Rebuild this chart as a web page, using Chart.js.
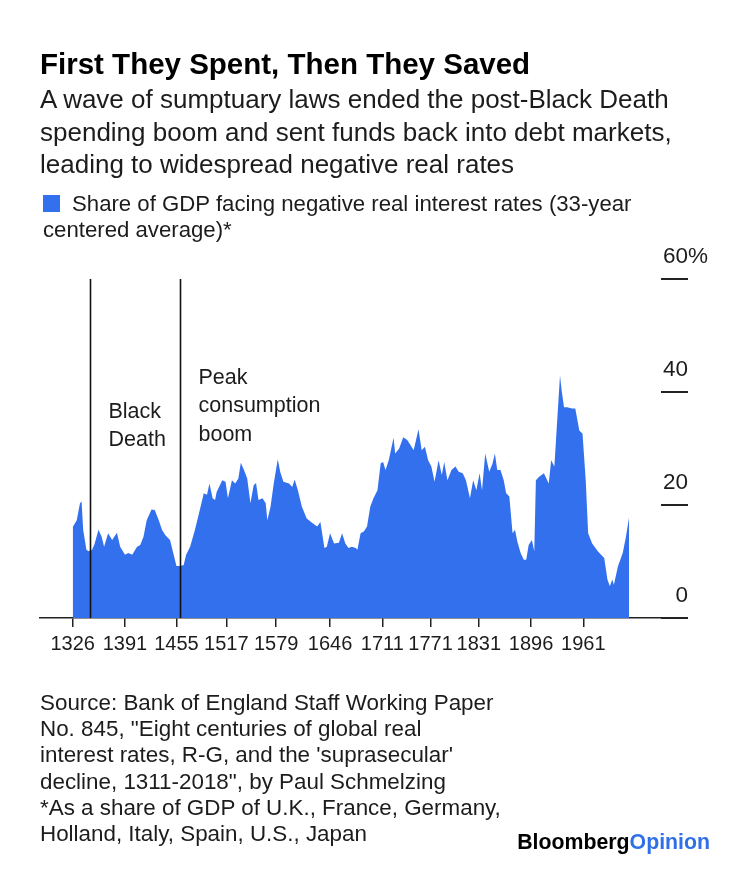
<!DOCTYPE html>
<html><head><meta charset="utf-8">
<script src="https://cdn.jsdelivr.net/npm/chart.js@4.4.1/dist/chart.umd.min.js"></script>
<style>
html,body{margin:0;padding:0;background:#fff;}
body{width:750px;height:887px;position:relative;overflow:hidden;font-family:"Liberation Sans",Arial,sans-serif;color:#1c1c1c;}
#c{position:absolute;left:0;top:0;}
.t{position:absolute;left:40px;white-space:nowrap;}
#title{top:47px;font-size:29.5px;line-height:34px;font-weight:bold;color:#000;}
#sub{top:83px;font-size:26px;line-height:32.5px;}
#legend{top:191px;left:43px;font-size:22.2px;line-height:25.5px;}
#legend .sw{display:inline-block;width:17px;height:17px;background:#3370ee;margin-right:12px;vertical-align:-1px;}
#source{top:690px;font-size:22.4px;line-height:26.2px;}
#brand{position:absolute;right:40px;top:829px;font-size:21.3px;line-height:26px;font-weight:bold;color:#000;white-space:nowrap;}
#brand span{color:#2f6fe8;}
</style></head>
<body>
<canvas id="c" width="750" height="887"></canvas>
<div class="t" id="title">First They Spent, Then They Saved</div>
<div class="t" id="sub">A wave of sumptuary laws ended the post-Black Death<br>spending boom and sent funds back into debt markets,<br>leading to widespread negative real rates</div>
<div class="t" id="legend"><span class="sw"></span>Share of GDP facing negative real interest rates (33-year<br>centered average)*</div>
<div class="t" id="source">Source: Bank of England Staff Working Paper<br>No. 845, "Eight centuries of global real<br>interest rates, R-G, and the 'suprasecular'<br>decline, 1311-2018", by Paul Schmelzing<br>*As a share of GDP of U.K., France, Germany,<br>Holland, Italy, Spain, U.S., Japan</div>
<div id="brand">Bloomberg<span>Opinion</span></div>
<script>
// ---- data ----
const years = [1326,1331,1335,1337,1339,1343,1346,1350,1353,1358,1362,1365,1370,1375,1381,1385,1391,1395,1400,1406,1410,1414,1418,1424,1428,1433,1437,1441,1447,1451,1455,1460,1464,1467,1472,1478,1485,1489,1493,1496,1500,1503,1505,1512,1516,1519,1524,1528,1532,1535,1539,1543,1547,1551,1554,1557,1562,1566,1568,1572,1576,1581,1584,1588,1595,1599,1602,1606,1611,1617,1624,1630,1634,1639,1642,1646,1651,1657,1661,1665,1669,1673,1678,1680,1684,1688,1692,1696,1700,1705,1709,1712,1715,1719,1725,1727,1732,1737,1742,1746,1750,1756,1760,1764,1768,1772,1776,1781,1785,1788,1792,1797,1802,1806,1811,1815,1820,1824,1828,1832,1835,1839,1844,1848,1851,1854,1858,1862,1865,1869,1873,1876,1879,1883,1887,1890,1893,1897,1900,1902,1906,1912,1918,1921,1925,1928,1932,1934,1937,1941,1947,1951,1956,1960,1964,1967,1972,1979,1987,1991,1994,1997,1999,2004,2010,2014,2018];
const negativeShare = [16.1,17.3,20.3,20.6,15.6,12.1,11.8,12.1,13.0,15.6,14.4,12.6,15.0,13.8,15.1,12.6,11.2,11.5,11.2,12.6,12.9,14.4,17.3,19.2,19.1,17.3,15.6,14.7,13.8,11.5,9.2,9.2,9.4,11.2,12.6,15.6,19.7,22.1,21.8,23.8,21.2,20.9,22.3,24.4,24.1,21.2,24.4,23.8,24.7,27.5,26.2,24.7,20.3,23.5,23.9,20.9,21.2,20.3,17.3,19.7,23.8,28.1,25.9,24.1,23.8,23.2,24.5,22.6,19.7,17.6,16.8,16.2,17.0,12.4,12.6,15.0,13.2,13.3,15.0,13.2,12.4,12.6,12.4,12.1,15.0,15.3,16.2,19.7,21.2,22.6,27.4,27.6,26.2,27.9,31.9,29.1,30.0,32.0,31.5,30.6,29.7,33.4,29.7,30.3,27.9,26.8,24.1,27.9,25.3,27.6,24.4,26.2,26.8,25.9,25.6,24.4,21.2,24.4,22.6,25.6,22.6,29.1,25.9,27.3,29.1,26.2,26.2,24.4,22.1,21.5,15.0,15.6,13.5,11.5,10.3,10.3,12.9,13.8,11.8,24.4,25.0,25.6,23.8,27.9,26.8,33.8,42.9,40.3,37.3,37.3,37.1,37.1,33.2,32.6,24.4,15.0,13.2,11.8,10.6,6.8,5.6,6.8,5.9,9.1,11.5,14.4,17.9];
const tickYears = [1326,1391,1455,1517,1579,1646,1711,1771,1831,1896,1961];
const yTicks = [0,20,40,60];
const eventYears = [1347,1460];
const eventLabels = [["Black","Death"],["Peak","consumption","boom"]];

const BLUE = '#3370ee';
const FONT = '"Liberation Sans", Arial, sans-serif';

const annot = {
  id:'annot',
  afterDatasetsDraw(chart){
    const {ctx, scales:{x,y}} = chart;
    const top = y.getPixelForValue(60), base = y.getPixelForValue(0);
    const firstLine = [top+133, top+99];
    ctx.save();
    eventYears.forEach((yr,i)=>{
      const px = Math.round(x.getPixelForValue(yr))+0.5;
      ctx.strokeStyle='#111'; ctx.lineWidth=1.6;
      ctx.beginPath(); ctx.moveTo(px, top); ctx.lineTo(px, base); ctx.stroke();
      ctx.fillStyle='#1c1c1c'; ctx.font='21.5px '+FONT; ctx.textBaseline='middle'; ctx.textAlign='left';
      eventLabels[i].forEach((ln,j)=>ctx.fillText(ln, px+18, firstLine[i]+j*28.5));
    });
    ctx.restore();
  }
};

new Chart(document.getElementById('c'), {
  type:'line',
  data:{datasets:[{
    data: years.map((yr,i)=>({x:yr, y:negativeShare[i]})),
    fill:'origin', backgroundColor:BLUE, borderWidth:0, pointRadius:0, tension:0
  }]},
  options:{
    responsive:false, animation:false, events:[],
    layout:{padding:{left:40, right:29, top:279, bottom:229}},
    plugins:{legend:{display:false}, tooltip:{enabled:false}},
    scales:{
      x:{type:'linear', min:1285.3, max:2057.6,
        afterBuildTicks:s=>{s.ticks = tickYears.map(v=>({value:v}));},
        afterFit:s=>{s.height=40;},
        grid:{drawOnChartArea:false, drawTicks:true, tickLength:9, color:'#222', lineWidth:1.5},
        border:{display:true, color:'#222', width:1.5},
        ticks:{autoSkip:false, maxRotation:0, padding:5, color:'#1c1c1c', font:{family:FONT, size:20}, callback:v=>String(v)}
      },
      y:{type:'linear', position:'right', min:0, max:60,
        afterBuildTicks:s=>{s.ticks = yTicks.map(v=>({value:v}));},
        afterFit:s=>{s.width=60;},
        grid:{drawOnChartArea:false, drawTicks:true, tickLength:27, color:'#222', lineWidth:2},
        border:{display:false},
        ticks:{padding:-25, labelOffset:-22, color:'#1c1c1c', font:{family:FONT, size:22.5},
          callback:v=> v===60 ? '60%' : (v===0 ? '\u20070' : String(v))}
      }
    }
  },
  plugins:[annot]
});
</script>
</body></html>
